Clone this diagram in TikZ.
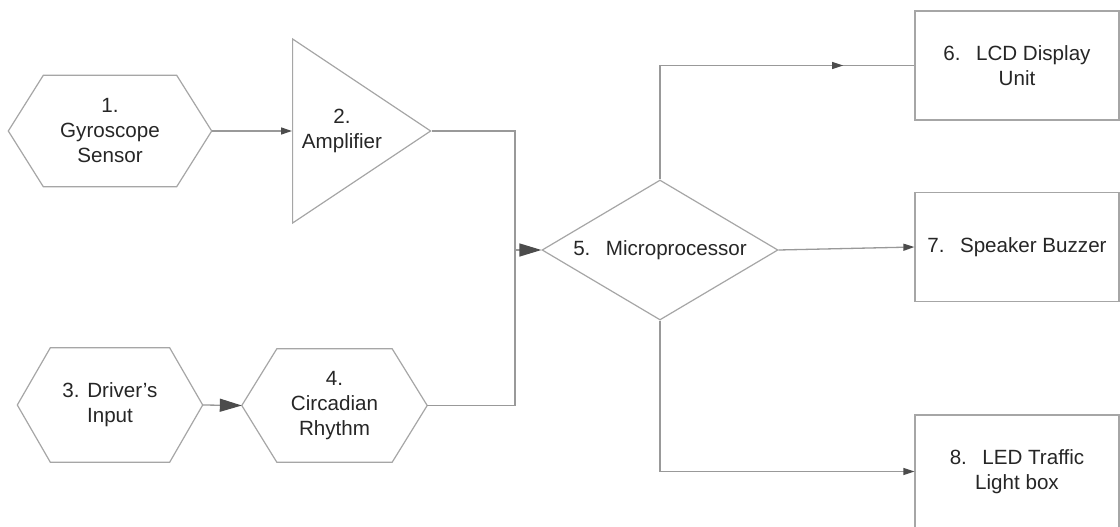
\documentclass[tikz,border=0pt]{standalone}
\usepackage{fontspec}
\setmainfont{Liberation Sans}
\usetikzlibrary{shapes.geometric,arrows.meta,calc}
\newcommand{\numgap}{\hspace{0.75em}}
% hexagon drawn round a plain node: node name, chamfer
\newcommand{\hexoutline}[2]{%
  \draw[outline] (#1.west) -- ([xshift=#2]#1.north west) -- ([xshift=-#2]#1.north east)
    -- (#1.east) -- ([xshift=-#2]#1.south east) -- ([xshift=#2]#1.south west) -- cycle;}
\tikzset{
  smalltip/.tip={Triangle[length=11pt,width=7pt,color=black!70]},
  bigtip/.tip={Triangle[length=22pt,width=13pt,color=black!70]},
}
\begin{document}
\begin{tikzpicture}[x=1pt, y=-1pt,
    every node/.style={font=\fontsize{20.6}{25}\selectfont, text=black!85, align=center},
    outline/.style={draw=black!35, line width=1.2pt},
    conn/.style={draw=black!40, line width=1.3pt},
    hexbox/.style={rectangle, inner sep=0pt},
    amptri/.style={isosceles triangle, isosceles triangle stretches, draw=black!35, line width=1.2pt,
      minimum width=184, minimum height=138, inner sep=0pt},
    proc/.style={diamond, aspect=1.7, draw=black!35, line width=1.2pt,
      minimum width=236, minimum height=140, inner sep=0pt},
    outbox/.style={rectangle, draw=black!35, line width=1.2pt, minimum width=204, minimum height=109}]
    \fill[white] (0,0) rectangle (1120,527);
    \clip (0,0) rectangle (1120,527);
    % Inputs
    \node[hexbox, minimum width=203, minimum height=111] (gyro) at (110,131) {1.\\Gyroscope\\Sensor};
    \hexoutline{gyro}{35pt}
    \node[amptri, anchor=lower side] (amp) at (292,131) {};
    \node (amptext) at (342,131) {2.\\Amplifier};
    \node[hexbox, minimum width=185, minimum height=114] (driver) at (110,405) {3. Driver's\\Input};
    \hexoutline{driver}{33pt}
    \node[hexbox, minimum width=185, minimum height=113] (circ) at (334.5,405.5) {4.\\Circadian\\Rhythm};
    \hexoutline{circ}{35pt}
    % Processing
    \node[proc] (mp) at (660,250) {5.\numgap Microprocessor};
    % Outputs
    \node[outbox] (lcd) at (1017,65.5) {6.\numgap LCD Display\\Unit};
    \node[outbox] (spk) at (1017,247) {7.\numgap Speaker Buzzer};
    \node[outbox, minimum height=113] (led) at (1017,471.5) {8.\numgap LED Traffic\\Light box};
    % Connectors
    \draw[conn, -smalltip] (gyro.east) -- (amp.lower side);
    \draw[conn, -bigtip] (driver.east) -- (circ.west);
    \coordinate (merge) at (515,250);
    \draw[conn] (amp.apex) -| (merge) |- (circ.east);
    \draw[conn, -bigtip] (merge) -- (mp.west);
    \draw[conn] (mp.north) |- (lcd.west);
    \draw[conn, -smalltip] (mp.north |- lcd.west) -- ($(mp.north |- lcd.west)!0.72!(lcd.west)$);
    \draw[conn, -smalltip] (mp.east) -- (spk.west);
    \draw[conn, -smalltip] (mp.south) |- (led.west);
\end{tikzpicture}
\end{document}
